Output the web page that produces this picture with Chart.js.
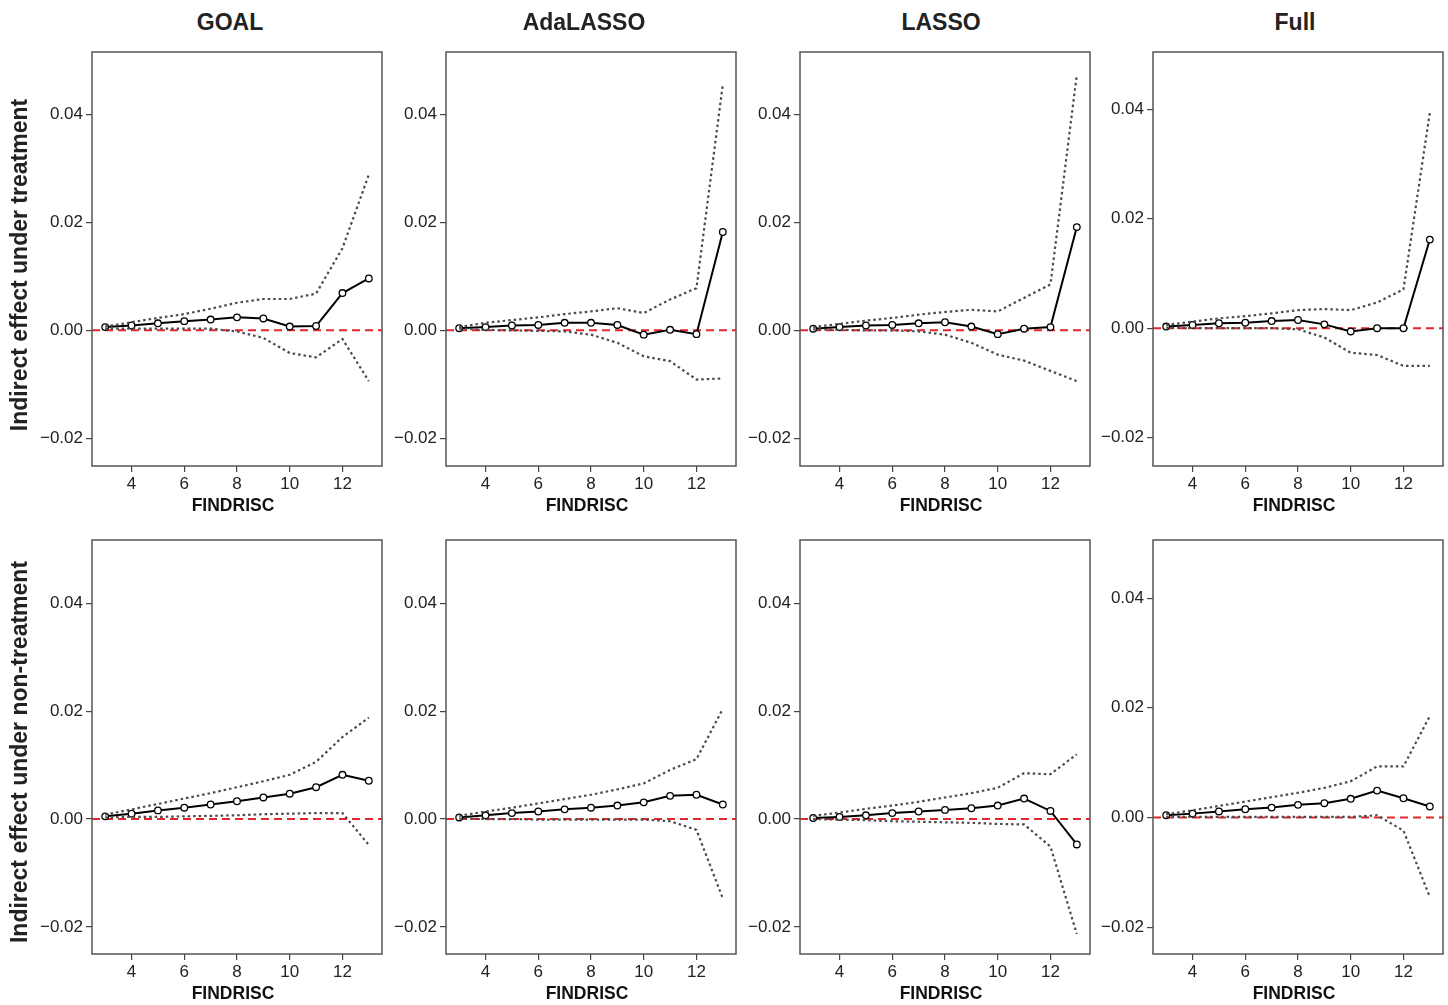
<!DOCTYPE html>
<html>
<head>
<meta charset="utf-8">
<script src="https://cdn.jsdelivr.net/npm/chart.js@4.4.1/dist/chart.umd.min.js"></script>
<style>
    body { margin: 0; background: #fff; width: 1448px; height: 1005px; position: relative; overflow: hidden;
           font-family: "Liberation Sans", Arial, Helvetica, sans-serif; }
    .panel { position: absolute; }
    .colTitle { position: absolute; font-weight: bold; font-size: 23px; color: #222; transform: translateX(-50%); white-space: nowrap; }
    .rowTitle { position: absolute; font-weight: bold; font-size: 23px; color: #222; white-space: nowrap;
                transform: translate(-50%, -50%) rotate(-90deg); }
</style>
</head>
<body>
<script>
// FINDRISC scores on the x axis
const findrisc = [3, 4, 5, 6, 7, 8, 9, 10, 11, 12, 13];
const methods = ['GOAL', 'AdaLASSO', 'LASSO', 'Full'];
const rowLabels = ['Indirect effect under treatment', 'Indirect effect under non-treatment'];
const xTicks = [4, 6, 8, 10, 12];
const yTicks = [-0.02, 0, 0.02, 0.04];

// y range of each panel (top row, bottom row)
const yMinTop = [-0.0251, -0.0251, -0.0251, -0.0252];
const yMaxTop = [0.0515, 0.0515, 0.0515, 0.0505];
const yMinBottom = [-0.0250, -0.0250, -0.0250, -0.0249];
const yMaxBottom = [0.0517, 0.0517, 0.0517, 0.0506];

// under treatment
const goalTreatEst = [0.0006, 0.0009, 0.0013, 0.0017, 0.0020, 0.0024, 0.0022, 0.0007, 0.0008, 0.0069, 0.0096];
const goalTreatUp = [0.0007, 0.0015, 0.0023, 0.0030, 0.0040, 0.0051, 0.0058, 0.0058, 0.0068, 0.0152, 0.0288];
const goalTreatLo = [0.0003, 0.0003, 0.0003, 0.0003, 0.0003, -0.0002, -0.0014, -0.0042, -0.0050, -0.0016, -0.0094];

const adaTreatEst = [0.0004, 0.0006, 0.0009, 0.0010, 0.0014, 0.0014, 0.0010, -0.0008, 0.0001, -0.0007, 0.0182];
const adaTreatUp = [0.0006, 0.0014, 0.0019, 0.0024, 0.0030, 0.0035, 0.0041, 0.0032, 0.0057, 0.0078, 0.0455];
const adaTreatLo = [0.0003, 0.0001, 0.0000, -0.0001, -0.0002, -0.0008, -0.0023, -0.0048, -0.0057, -0.0091, -0.0089];

const lassoTreatEst = [0.0003, 0.0006, 0.0009, 0.0010, 0.0013, 0.0015, 0.0007, -0.0007, 0.0003, 0.0006, 0.0191];
const lassoTreatUp = [0.0006, 0.0012, 0.0018, 0.0023, 0.0029, 0.0034, 0.0038, 0.0035, 0.0060, 0.0085, 0.0473];
const lassoTreatLo = [0.0002, 0.0001, 0.0000, 0.0000, -0.0002, -0.0008, -0.0023, -0.0045, -0.0056, -0.0075, -0.0094];

const fullTreatEst = [0.0003, 0.0006, 0.0009, 0.0010, 0.0013, 0.0015, 0.0007, -0.0006, 0.0000, 0.0000, 0.0162];
const fullTreatUp = [0.0006, 0.0012, 0.0018, 0.0022, 0.0027, 0.0033, 0.0035, 0.0033, 0.0047, 0.0071, 0.0394];
const fullTreatLo = [0.0001, 0.0000, 0.0000, 0.0000, 0.0000, -0.0002, -0.0017, -0.0045, -0.0049, -0.0069, -0.0069];

// under non-treatment
const goalNonEst = [0.0005, 0.0010, 0.0016, 0.0021, 0.0027, 0.0033, 0.0040, 0.0047, 0.0059, 0.0082, 0.0071];
const goalNonUp = [0.0008, 0.0018, 0.0028, 0.0038, 0.0048, 0.0059, 0.0070, 0.0082, 0.0106, 0.0152, 0.0188];
const goalNonLo = [0.0003, 0.0004, 0.0004, 0.0005, 0.0006, 0.0007, 0.0009, 0.0010, 0.0011, 0.0011, -0.0048];

const adaNonEst = [0.0003, 0.0007, 0.0011, 0.0014, 0.0018, 0.0021, 0.0025, 0.0031, 0.0043, 0.0045, 0.0027];
const adaNonUp = [0.0006, 0.0014, 0.0021, 0.0029, 0.0037, 0.0045, 0.0055, 0.0066, 0.0091, 0.0111, 0.0204];
const adaNonLo = [0.0001, 0.0000, 0.0000, -0.0001, -0.0001, -0.0001, -0.0001, -0.0001, -0.0004, -0.0020, -0.0147];

const lassoNonEst = [0.0002, 0.0004, 0.0007, 0.0011, 0.0014, 0.0017, 0.0020, 0.0025, 0.0038, 0.0015, -0.0047];
const lassoNonUp = [0.0006, 0.0012, 0.0019, 0.0025, 0.0032, 0.0040, 0.0048, 0.0058, 0.0085, 0.0083, 0.0120];
const lassoNonLo = [0.0000, -0.0001, -0.0002, -0.0004, -0.0005, -0.0006, -0.0007, -0.0009, -0.0010, -0.0051, -0.0213];

const fullNonEst = [0.0004, 0.0007, 0.0011, 0.0015, 0.0018, 0.0023, 0.0026, 0.0034, 0.0049, 0.0035, 0.0020];
const fullNonUp = [0.0006, 0.0013, 0.0021, 0.0029, 0.0037, 0.0045, 0.0054, 0.0066, 0.0093, 0.0093, 0.0185];
const fullNonLo = [0.0001, 0.0001, 0.0001, 0.0001, 0.0001, 0.0001, 0.0001, 0.0001, 0.0004, -0.0024, -0.0145];

const panels = [
    [[goalTreatEst, goalTreatUp, goalTreatLo], [adaTreatEst, adaTreatUp, adaTreatLo],
     [lassoTreatEst, lassoTreatUp, lassoTreatLo], [fullTreatEst, fullTreatUp, fullTreatLo]],
    [[goalNonEst, goalNonUp, goalNonLo], [adaNonEst, adaNonUp, adaNonLo],
     [lassoNonEst, lassoNonUp, lassoNonLo], [fullNonEst, fullNonUp, fullNonLo]]
];

// layout of the plot boxes
const boxLeft = [92, 446, 800, 1153];
const boxTop = [52, 540];
const boxW = 290;
const boxH = 414;
const padL = 80, padT = 10, padR = 10, padB = 50;
const titleShift = [-7, -7, -4, -3];
const font = '"Liberation Sans", Arial, Helvetica, sans-serif';

// full frame round the plot, the red zero line and the x axis title
const framePlugin = {
    id: 'frame',
    beforeDatasetsDraw(chart) {
        const { ctx, chartArea, scales } = chart;
        const y0 = scales.y.getPixelForValue(0);
        ctx.save();
        ctx.strokeStyle = '#e3262b';
        ctx.lineWidth = 2;
        ctx.setLineDash([8, 5]);
        ctx.beginPath();
        ctx.moveTo(chartArea.left, y0);
        ctx.lineTo(chartArea.right, y0);
        ctx.stroke();
        ctx.restore();
    },
    afterDraw(chart) {
        const { ctx, chartArea } = chart;
        ctx.save();
        ctx.strokeStyle = '#555';
        ctx.lineWidth = 1.5;
        ctx.strokeRect(chartArea.left, chartArea.top, chartArea.right - chartArea.left, chartArea.bottom - chartArea.top);
        ctx.fillStyle = '#111';
        ctx.font = 'bold 17.5px ' + font;
        ctx.textAlign = 'center';
        ctx.textBaseline = 'middle';
        ctx.fillText('FINDRISC', (chartArea.left + chartArea.right) / 2 - 4, chartArea.bottom + 40);
        ctx.restore();
    }
};

function toPoints(values) {
    return findrisc.map((x, i) => ({ x: x, y: values[i] }));
}

function makePanel(row, col) {
    const [est, up, lo] = panels[row][col];
    const div = document.createElement('div');
    div.className = 'panel';
    div.style.left = (boxLeft[col] - padL) + 'px';
    div.style.top = (boxTop[row] - padT) + 'px';
    div.style.width = (boxW + padL + padR) + 'px';
    div.style.height = (boxH + padT + padB) + 'px';
    const canvas = document.createElement('canvas');
    div.appendChild(canvas);
    document.body.appendChild(div);

    const bound = (data) => ({
        data: toPoints(data),
        borderColor: '#4a4a4a',
        borderWidth: 2.2,
        borderDash: [2.5, 3],
        pointRadius: 0,
        fill: false,
        tension: 0
    });

    new Chart(canvas, {
        type: 'line',
        data: {
            datasets: [
                bound(up),
                bound(lo),
                {
                    data: toPoints(est),
                    borderColor: '#000',
                    borderWidth: 2,
                    pointRadius: 3.3,
                    pointBackgroundColor: '#fff',
                    pointBorderColor: '#000',
                    pointBorderWidth: 1.3,
                    fill: false,
                    tension: 0
                }
            ]
        },
        options: {
            responsive: true,
            maintainAspectRatio: false,
            animation: false,
            layout: { padding: { left: 0, top: padT, right: padR, bottom: 0 } },
            plugins: { legend: { display: false }, tooltip: { enabled: false } },
            scales: {
                x: {
                    type: 'linear',
                    min: 2.5,
                    max: 13.5,
                    afterBuildTicks: (scale) => { scale.ticks = xTicks.map(v => ({ value: v })); },
                    afterFit: (scale) => {
                        scale.height = padB;
                        scale.paddingLeft = 0;
                        scale.paddingRight = 0;
                    },
                    grid: { drawOnChartArea: false, drawTicks: true, tickLength: 6, color: '#444', lineWidth: 1.2 },
                    border: { display: false },
                    ticks: { color: '#222', font: { family: font, size: 17 }, padding: 2, maxRotation: 0 }
                },
                y: {
                    min: row === 0 ? yMinTop[col] : yMinBottom[col],
                    max: row === 0 ? yMaxTop[col] : yMaxBottom[col],
                    afterBuildTicks: (scale) => { scale.ticks = yTicks.map(v => ({ value: v })); },
                    afterFit: (scale) => {
                        scale.width = padL;
                        scale.paddingTop = 0;
                        scale.paddingBottom = 0;
                    },
                    grid: { drawOnChartArea: false, drawTicks: true, tickLength: 6, color: '#444', lineWidth: 1.2 },
                    border: { display: false },
                    ticks: {
                        color: '#222',
                        font: { family: font, size: 17 },
                        padding: 3,
                        callback: (v) => v.toFixed(2).replace('-', '\u2212')
                    }
                }
            }
        },
        plugins: [framePlugin]
    });
}

for (let r = 0; r < 2; r++) {
    for (let c = 0; c < 4; c++) {
        makePanel(r, c);
    }
}

methods.forEach((m, c) => {
    const t = document.createElement('div');
    t.className = 'colTitle';
    t.textContent = m;
    t.style.left = (boxLeft[c] + boxW / 2 + titleShift[c]) + 'px';
    t.style.top = '9px';
    document.body.appendChild(t);
});

const rowCenters = [265, 752];
rowLabels.forEach((txt, r) => {
    const t = document.createElement('div');
    t.className = 'rowTitle';
    t.textContent = txt;
    t.style.left = '19px';
    t.style.top = rowCenters[r] + 'px';
    document.body.appendChild(t);
});
</script>
</body>
</html>
